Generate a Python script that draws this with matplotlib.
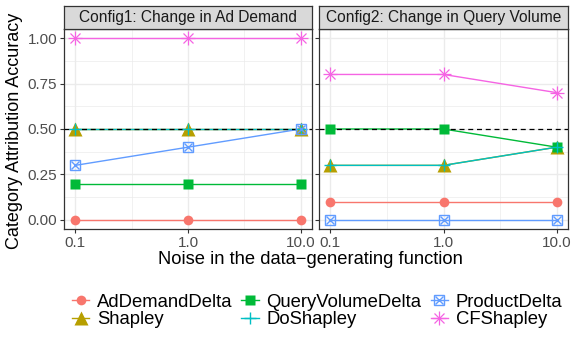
import matplotlib
matplotlib.use("Agg")
import matplotlib.pyplot as plt
from matplotlib.lines import Line2D
from matplotlib.legend_handler import HandlerTuple

plt.rcParams['font.family'] = ['Liberation Sans', 'DejaVu Sans']

noise = [0.1, 1.0, 10.0]
noise_labels = ["0.1", "1.0", "10.0"]
methods = ["AdDemandDelta", "Shapley", "QueryVolumeDelta", "DoShapley", "ProductDelta", "CFShapley"]
colors = ["#F8766D", "#B79F00", "#00BA38", "#00BFC4", "#619CFF", "#F564E3"]

panel_titles = ["Config1: Change in Ad Demand", "Config2: Change in Query Volume"]
config1 = {
    "AdDemandDelta": [0.0, 0.0, 0.0],
    "Shapley": [0.5, 0.5, 0.5],
    "QueryVolumeDelta": [0.2, 0.2, 0.2],
    "DoShapley": [0.5, 0.5, 0.5],
    "ProductDelta": [0.3, 0.4, 0.5],
    "CFShapley": [1.0, 1.0, 1.0],
}
config2 = {
    "AdDemandDelta": [0.1, 0.1, 0.1],
    "Shapley": [0.3, 0.3, 0.4],
    "QueryVolumeDelta": [0.5, 0.5, 0.4],
    "DoShapley": [0.3, 0.3, 0.4],
    "ProductDelta": [0.0, 0.0, 0.0],
    "CFShapley": [0.8, 0.8, 0.7],
}
baseline = 0.5

# marker styles per method (list -> overlaid markers)
mstyle = {
    "AdDemandDelta": [dict(marker="o", ms=7, mfc=None, mec="none")],
    "Shapley": [dict(marker="^", ms=9.5, mfc=None, mec="none")],
    "QueryVolumeDelta": [dict(marker="s", ms=7, mfc=None, mec="none")],
    "DoShapley": [dict(marker="+", ms=9, mew=1.0)],
    "ProductDelta": [dict(marker="s", ms=7, mfc="none", mew=1.0), dict(marker="x", ms=6, mew=1.0)],
    "CFShapley": [dict(marker="+", ms=10, mew=0.9), dict(marker="x", ms=7, mew=0.9)],
}

def marker_kw(st, c):
    kw = dict(st)
    kw["ls"] = "none"
    if kw.get("mfc", "x") is None:
        kw["mfc"] = c
    if kw.get("mec", "x") != "none":
        kw["mec"] = c
    kw["color"] = c
    return kw

W, H = 574, 339
fig = plt.figure(figsize=(W / 100, H / 100), dpi=100)

panels = [(64, 312), (319, 568)]
top, bot = 29, 229
strip_top = 6

for (x0, x1), title, data in zip(panels, panel_titles, [config1, config2]):
    ax = fig.add_axes([x0 / W, 1 - bot / H, (x1 - x0) / W, (bot - top) / H])
    ax.set_xscale("log")
    ax.set_xlim(10 ** -1.1, 10 ** 1.1)
    ax.set_ylim(-0.05, 1.05)
    ax.set_xticks(noise)
    ax.set_xticklabels(noise_labels)
    ax.set_xticks([10 ** -0.5, 10 ** 0.5], minor=True)
    ax.xaxis.set_minor_formatter(plt.NullFormatter())
    ax.set_yticks([0, 0.25, 0.5, 0.75, 1.0])
    ax.set_yticks([0.125, 0.375, 0.625, 0.875], minor=True)
    if x0 == 64:
        ax.set_yticklabels(["0.00", "0.25", "0.50", "0.75", "1.00"])
    else:
        ax.set_yticklabels([])
        ax.tick_params(axis="y", length=0)
    ax.grid(True, which="major", color="#EBEBEB", lw=1.0)
    ax.grid(True, which="minor", color="#EBEBEB", lw=0.5)
    ax.set_axisbelow(True)
    ax.tick_params(which="minor", length=0)
    ax.tick_params(which="major", length=3, width=0.8, color="#333333",
                   labelsize=11, labelcolor="#4D4D4D", pad=2)
    for s in ax.spines.values():
        s.set_color("#333333")
        s.set_linewidth(0.9)

    for m, c in zip(methods, colors):
        ax.plot(noise, data[m], color=c, lw=1.0, zorder=2)
    ax.axhline(baseline, color="black", ls=(0, (4, 3)), lw=0.9, zorder=3)
    for m, c in zip(methods, colors):
        for st in mstyle[m]:
            ax.plot(noise, data[m], zorder=4, clip_on=False, **marker_kw(st, c))

    # strip
    sax = fig.add_axes([x0 / W, 1 - top / H, (x1 - x0) / W, (top - strip_top) / H])
    sax.set_facecolor("#D9D9D9")
    sax.set_xticks([])
    sax.set_yticks([])
    for s in sax.spines.values():
        s.set_color("#333333")
        s.set_linewidth(0.9)
    sax.text(0.5, 0.5, title, ha="center", va="center", fontsize=11.2,
             color="#1A1A1A", transform=sax.transAxes)

fig.text(15 / W, 1 - 131 / H, "Category Attribution Accuracy", rotation=90,
         ha="center", va="center", fontsize=13)
fig.text(310 / W, 1 - 259 / H, "Noise in the data\u2212generating function",
         ha="center", va="center", fontsize=13.2)

handles = []
for m, c in zip(methods, colors):
    parts = [Line2D([], [], color=c, lw=1.0)]
    for st in mstyle[m]:
        parts.append(Line2D([], [], **marker_kw(st, c)))
    handles.append(tuple(parts))
fig.legend(handles, methods, ncol=3, loc="center", bbox_to_anchor=(317 / W, 1 - 311 / H),
           frameon=False, fontsize=13.3, handler_map={tuple: HandlerTuple(ndivide=1, pad=0)},
           handlelength=0.95, handletextpad=0.4, columnspacing=0.5, labelspacing=0.05,
           borderaxespad=0, borderpad=0)

fig.savefig("out.png", dpi=100)
